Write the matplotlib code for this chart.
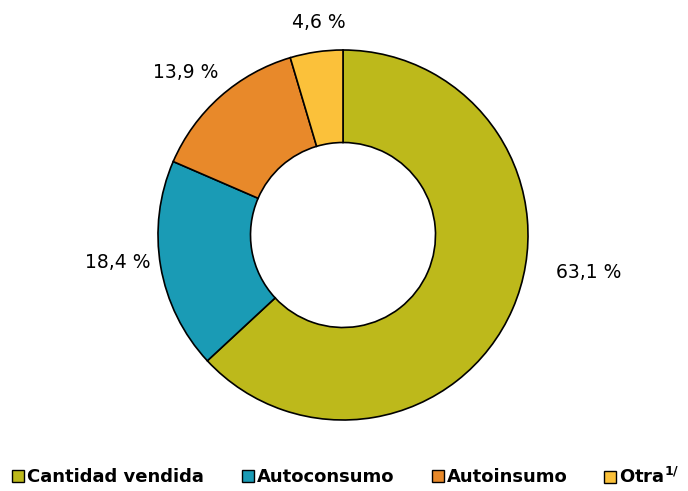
import matplotlib.pyplot as plt
from matplotlib.patches import Patch

categorias = ['Cantidad vendida', 'Autoconsumo', 'Autoinsumo', r'Otra$^{\mathbf{1/}}$']
porcentajes = [63.1, 18.4, 13.9, 4.6]
etiquetas = ['63,1 %', '18,4 %', '13,9 %', '4,6 %']
colores = ['#BDB91B', '#1A9BB5', '#E8892A', '#FBC13A']

plt.rcParams['font.family'] = ['DejaVu Sans']
plt.rcParams['mathtext.fontset'] = 'dejavusans'

W, H = 688, 491
fig = plt.figure(figsize=(W / 100, H / 100), dpi=100)
cx, cy, r = 343, 235, 185
ax = fig.add_axes([(cx - r) / W, (H - cy - r) / H, 2 * r / W, 2 * r / H])

ax.pie(porcentajes, colors=colores, startangle=90, counterclock=False, radius=1,
       wedgeprops=dict(width=0.5, edgecolor='black', linewidth=1.2))
ax.set_xlim(-1, 1)
ax.set_ylim(-1, 1)
ax.set_aspect('equal')

# posiciones de etiquetas (en radios)
pos = [(1.33, -0.20), (-1.22, -0.15), (-0.85, 0.88), (-0.13, 1.15)]
for (x, y), t in zip(pos, etiquetas):
    ax.text(x, y, t, ha='center', va='center', fontsize=13.5, clip_on=False)

# una leyenda por elemento, en la fila inferior
x_leyenda = [12, 242, 432, 604]
for c, nombre, xl in zip(colores, categorias, x_leyenda):
    h = Patch(facecolor=c, edgecolor='black', linewidth=1)
    fig.legend([h], [nombre], loc='center left', bbox_to_anchor=(xl / W, (H - 477) / H),
               frameon=False, handlelength=0.65, handleheight=0.65, handletextpad=0.2,
               borderaxespad=0, borderpad=0,
               prop=dict(size=13, weight='bold'))

fig.savefig('out.png', dpi=100)
